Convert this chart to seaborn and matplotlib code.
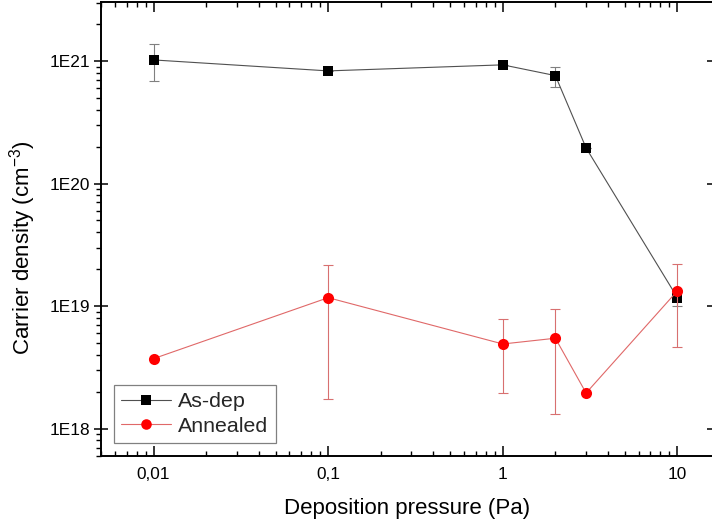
import numpy as np
import pandas as pd
import matplotlib
matplotlib.use("Agg")
import matplotlib.pyplot as plt
import matplotlib.ticker as mticker
import seaborn as sns

# ---- data ----
pressure = [0.01, 0.1, 1, 2, 3, 10]
asdep = [1.02e21, 8.3e20, 9.3e20, 7.6e20, 1.95e20, 1.17e19]
asdep_low = [6.9e20, 8.3e20, 9.3e20, 6.1e20, 1.95e20, 1.0e19]
asdep_high = [1.38e21, 8.3e20, 9.3e20, 9.0e20, 1.95e20, 1.34e19]
annealed = [3.72e18, 1.17e19, 4.9e18, 5.46e18, 1.95e18, 1.33e19]
annealed_low = [3.72e18, 1.74e18, 1.96e18, 1.32e18, 1.95e18, 4.6e18]
annealed_high = [3.72e18, 2.16e19, 7.8e18, 9.5e18, 1.95e18, 2.19e19]
series_names = ["As-dep", "Annealed"]
xtick_vals = [0.01, 0.1, 1, 10]
xtick_labels = ["0,01", "0,1", "1", "10"]
ytick_vals = [1e18, 1e19, 1e20, 1e21]
ytick_labels = ["1E18", "1E19", "1E20", "1E21"]

sns.set_theme(style="ticks")
plt.rcParams["font.family"] = ["Liberation Sans", "DejaVu Sans"]
plt.rcParams["mathtext.default"] = "regular"

fig = plt.figure(figsize=(7.12, 5.24), dpi=100)
W, H = 712, 524
ax = fig.add_axes([101 / W, 1 - 456 / H, (714 - 101) / W, (456 - 2) / H])

df_a = pd.DataFrame({"p": pressure, "n": asdep})
df_b = pd.DataFrame({"p": pressure, "n": annealed})

# error bars
ax.errorbar(pressure, asdep,
            yerr=[np.array(asdep) - np.array(asdep_low), np.array(asdep_high) - np.array(asdep)],
            fmt="none", ecolor="#808080", elinewidth=0.8, capsize=3.3, capthick=0.8, zorder=2)
ax.errorbar(pressure, annealed,
            yerr=[np.array(annealed) - np.array(annealed_low), np.array(annealed_high) - np.array(annealed)],
            fmt="none", ecolor="#d87070", elinewidth=0.8, capsize=3.3, capthick=0.8, zorder=4)

sns.lineplot(data=df_a, x="p", y="n", ax=ax, color="#505050", linewidth=0.8,
             marker="s", markersize=7, markerfacecolor="black", markeredgecolor="black",
             markeredgewidth=0, label=series_names[0], zorder=3)
sns.lineplot(data=df_b, x="p", y="n", ax=ax, color="#e06868", linewidth=0.8,
             marker="o", markersize=8, markerfacecolor="#ff0000", markeredgecolor="#ff0000",
             markeredgewidth=0, label=series_names[1], zorder=5)

ax.set_xscale("log")
ax.set_yscale("log")

ax.set_xticks(xtick_vals)
ax.set_xticklabels(xtick_labels)
ax.set_yticks(ytick_vals)
ax.set_yticklabels(ytick_labels)
xminor = [k * 10.0 ** d for d in range(-3, 2) for k in range(2, 10)]
yminor = [k * 10.0 ** d for d in range(17, 22) for k in range(2, 10)]
ax.xaxis.set_minor_locator(mticker.FixedLocator(xminor))
ax.yaxis.set_minor_locator(mticker.FixedLocator(yminor))
ax.xaxis.set_minor_formatter(mticker.NullFormatter())
ax.yaxis.set_minor_formatter(mticker.NullFormatter())
ax.set_xlim(0.00500, 16.2)
ax.set_ylim(5.97e17, 3.03e21)

for s in ax.spines.values():
    s.set_linewidth(1.4)
    s.set_color("black")

ax.tick_params(axis="x", which="major", direction="in", length=7, width=1.1,
               top=True, bottom=True, labelsize=12.4, pad=8, colors="black")
ax.tick_params(axis="x", which="minor", direction="in", length=3.6, width=1.0,
               top=True, bottom=True, colors="black")
ax.tick_params(axis="y", which="major", direction="inout", length=10, width=1.1,
               left=True, right=True, labelsize=12.4, pad=3, colors="black")
ax.tick_params(axis="y", which="minor", direction="out", length=3.6, width=1.0,
               left=True, right=True, colors="black")

ax.set_xlabel("Deposition pressure (Pa)", fontsize=16, labelpad=11.5, color="black")
ax.set_ylabel("Carrier density (cm$^{-3}$)", fontsize=16, color="black")
ax.yaxis.set_label_coords(-0.103, 0.458)

leg = ax.legend(loc="lower left", bbox_to_anchor=(13 / 613, 13 / 454), borderaxespad=0,
                fontsize=15.4, frameon=True, fancybox=False, framealpha=1,
                edgecolor="#808080", handlelength=2.3, handletextpad=0.35,
                borderpad=0.35, labelspacing=0.25, markerscale=0.95)
leg.get_frame().set_linewidth(0.9)

ax.set_facecolor("white")
fig.patch.set_facecolor("white")
fig.savefig("out.png", dpi=100)
